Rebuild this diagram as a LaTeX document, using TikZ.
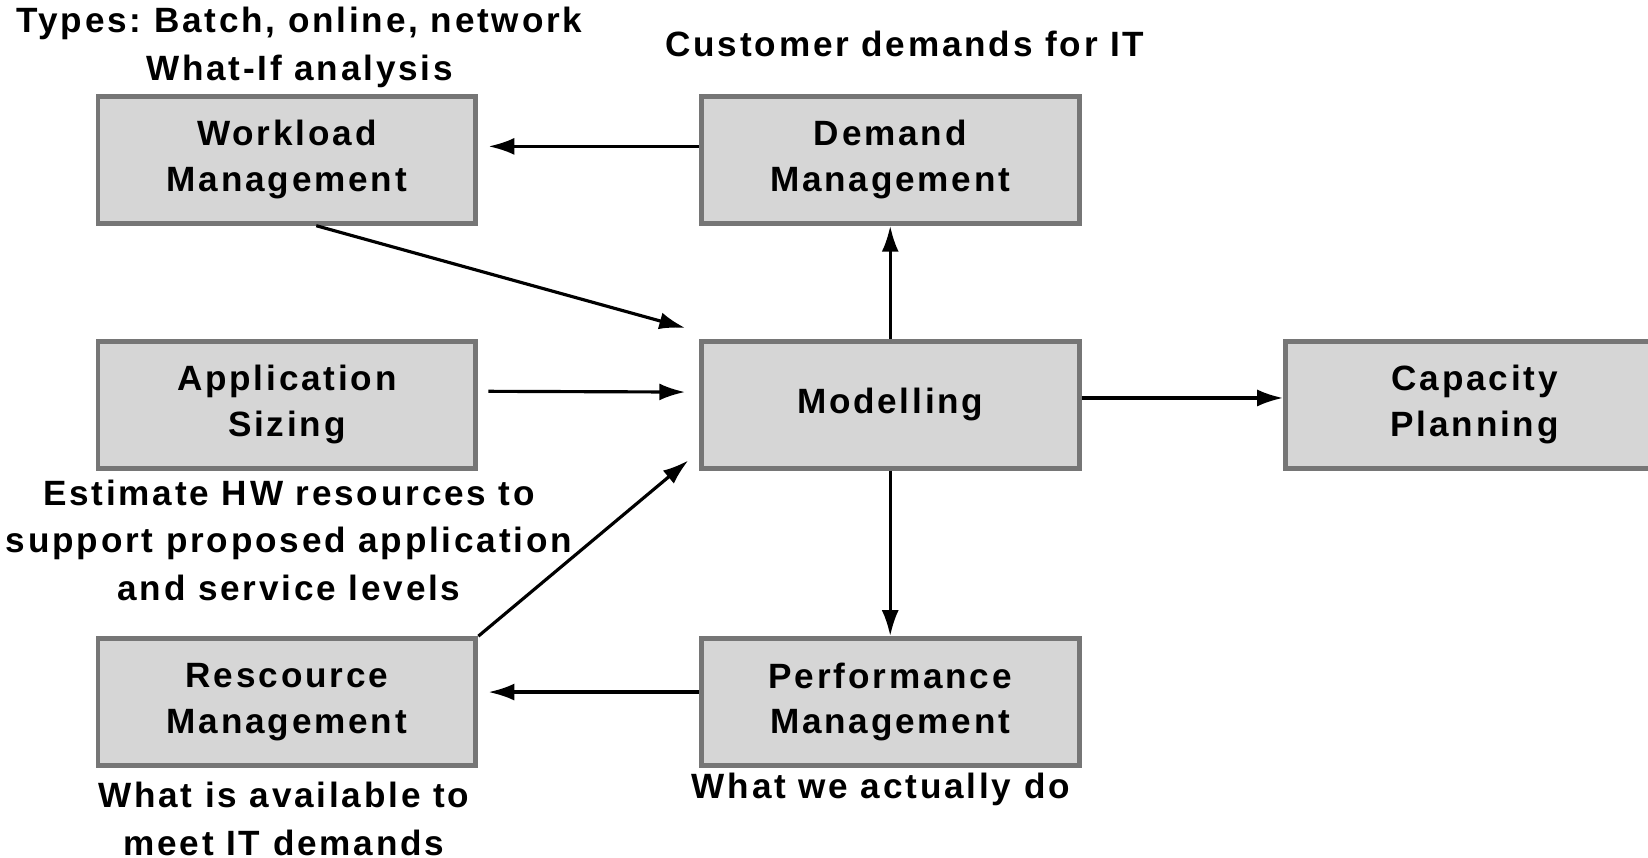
\documentclass[tikz,border=0pt]{standalone}
\usepackage{fontspec}
\setmainfont{Liberation Sans}[LetterSpace=8]
\usepackage{tikz}
\usetikzlibrary{arrows.meta}
\frenchspacing

\definecolor{boxfill}{RGB}{214,214,214}
\definecolor{boxline}{RGB}{118,118,118}

\begin{document}
\begin{tikzpicture}[x=0.01051cm,y=-0.01051cm,
    blk/.style={draw=boxline,fill=boxfill,line width=1.4pt,minimum width=3.78cm,minimum height=1.27cm,align=center,font=\bfseries\fontsize{10}{13}\selectfont},
    lbl/.style={align=center,font=\bfseries\fontsize{10}{13.5}\selectfont},
    arr/.style={-{Latex[length=2.6mm,width=1.7mm]},line width=0.9pt}]
\useasboundingbox (0,0) rectangle (1568,816);
% Boxes
\node[blk] (wl) at (273,152) {Workload\\Management};
\node[blk] (dem) at (847,152) {Demand\\Management};
\node[blk] (app) at (273,385) {Application\\Sizing};
\node[blk] (mod) at (847,385) {Modelling};
\node[blk] (cap) at (1403,385) {Capacity\\Planning};
\node[blk] (rc) at (273,668) {Rescource\\Management};
\node[blk] (perf) at (847,668) {Performance\\Management};

% Notes
\node[lbl] (tWl) at (285,45) {Types: Batch, online, network\\What-If analysis};
\node[lbl] (tDem) at (861,42) {Customer demands for IT};
\node[lbl] (tApp) at (275,514) {Estimate HW resources to\\support proposed application\\and service levels};
\node[lbl] (tRc) at (270,779) {What is available to\\meet IT demands};
\node[lbl] (tPerf) at (838,751) {What we actually do};

% Arrows
\coordinate (inA) at (652,312);
\coordinate (inB) at (652,373);
\coordinate (inC) at (655,438);
\draw[arr,shorten >=1mm] (dem.176) -- (dem.176 -| wl.east);
\draw[arr] (wl.-66) -- (inA);
\draw[arr,shorten <=1mm] (app.4) -- (inB);
\draw[arr] (rc.north east) -- (inC);
\draw[arr] (mod.north) -- (dem.south);
\draw[arr] (mod.south) -- (perf.north);
\draw[arr] (mod.2) -- (mod.2 -| cap.west);
\draw[arr,shorten >=1mm] (perf.177) -- (perf.177 -| rc.east);
\end{tikzpicture}
\end{document}
